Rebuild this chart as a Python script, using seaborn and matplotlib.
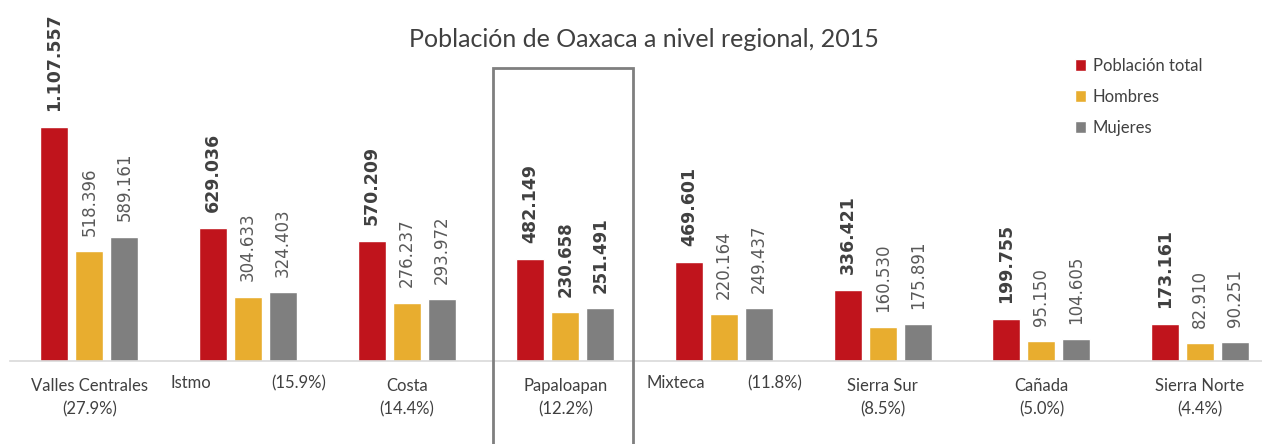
import matplotlib
matplotlib.use('Agg')
import matplotlib.pyplot as plt
from matplotlib.patches import Rectangle
import seaborn as sns
import pandas as pd

regiones = ['Valles Centrales', 'Istmo', 'Costa', 'Papaloapan', 'Mixteca',
            'Sierra Sur', 'Cañada', 'Sierra Norte']
porcentajes = ['(27.9%)', '(15.9%)', '(14.4%)', '(12.2%)', '(11.8%)',
               '(8.5%)', '(5.0%)', '(4.4%)']
total = [1107557, 629036, 570209, 482149, 469601, 336421, 199755, 173161]
hombres = [518396, 304633, 276237, 230658, 220164, 160530, 95150, 82910]
mujeres = [589161, 324403, 293972, 251491, 249437, 175891, 104605, 90251]
series = ['Población total', 'Hombres', 'Mujeres']
colores = ['#C0141C', '#E8AD2F', '#7F7F7F']
destacada = 'Papaloapan'

rows = []
for s, vals in zip(series, [total, hombres, mujeres]):
    for r, v in zip(regiones, vals):
        rows.append({'region': r, 'serie': s, 'valor': v})
df = pd.DataFrame(rows)

sns.set_style('white')
plt.rcParams['font.family'] = ['Lato', 'DejaVu Sans']

fig = plt.figure(figsize=(12.62, 4.44), dpi=100)
ax = fig.add_axes([10 / 1262, 83 / 444, 1252 / 1262, 361 / 444])

sns.barplot(data=df, x='region', y='valor', hue='serie', palette=colores,
            width=0.662, gap=0.2, saturation=1, ax=ax, legend=True)

ax.set_xlim(-0.5, 7.39)
ax.set_ylim(0, 1708500)
ax.set_yticks([])
ax.set_xlabel('')
ax.set_ylabel('')
for sp in ['top', 'left', 'right']:
    ax.spines[sp].set_visible(False)
ax.spines['bottom'].set_color('#d9d9d9')
ax.spines['bottom'].set_linewidth(1.2)

# etiquetas de valores
idx_dest = regiones.index(destacada)
for i, cont in enumerate(ax.containers):
    labs = [f'{int(round(v)):,}'.replace(',', '.') for v in cont.datavalues]
    if i == 0:
        ax.bar_label(cont, labels=labs, rotation=90, padding=11.5, fontsize=12.5,
                     fontweight='bold', color='#404040', family='DejaVu Sans')
    else:
        txts = ax.bar_label(cont, labels=labs, rotation=90, padding=11, fontsize=12,
                            color='#595959', family='DejaVu Sans')
        txts[idx_dest].set_fontweight('bold')
        txts[idx_dest].set_color('#404040')

# etiquetas del eje x
ticklabels = []
for i, (r, p) in enumerate(zip(regiones, porcentajes)):
    if r in ('Istmo', 'Mixteca'):
        ticklabels.append('')
        ax.text(i - 0.49, -0.04, r, transform=ax.get_xaxis_transform(),
                ha='left', va='top', fontsize=12, color='#404040')
        ax.text(i + 0.49, -0.04, p, transform=ax.get_xaxis_transform(),
                ha='right', va='top', fontsize=12, color='#404040')
    else:
        ticklabels.append(f'{r}\n{p}')
ax.set_xticks(range(len(regiones)))
ax.set_xticklabels(ticklabels, fontsize=12, color='#404040', linespacing=1.6)
ax.tick_params(axis='x', length=0, pad=12)

fig.text(0.51, 0.91, 'Población de Oaxaca a nivel regional, 2015',
         ha='center', va='center', fontsize=18, color='#404040')

leg = ax.legend(loc='upper left', bbox_to_anchor=(1068 / 1262 - 10 / 1262, 1 - 43 / 361),
                bbox_transform=ax.transAxes, frameon=False, fontsize=12,
                handlelength=0.7, handleheight=0.7, handletextpad=0.4,
                labelspacing=0.9, labelcolor='#404040')

# recuadro de la región destacada
fig.add_artist(Rectangle((493 / 1262, -0.05), 140 / 1262, (444 - 68) / 444 + 0.05,
                         transform=fig.transFigure, fill=False,
                         edgecolor='#7F7F7F', linewidth=2, clip_on=False))

fig.savefig('out.png', dpi=100)
